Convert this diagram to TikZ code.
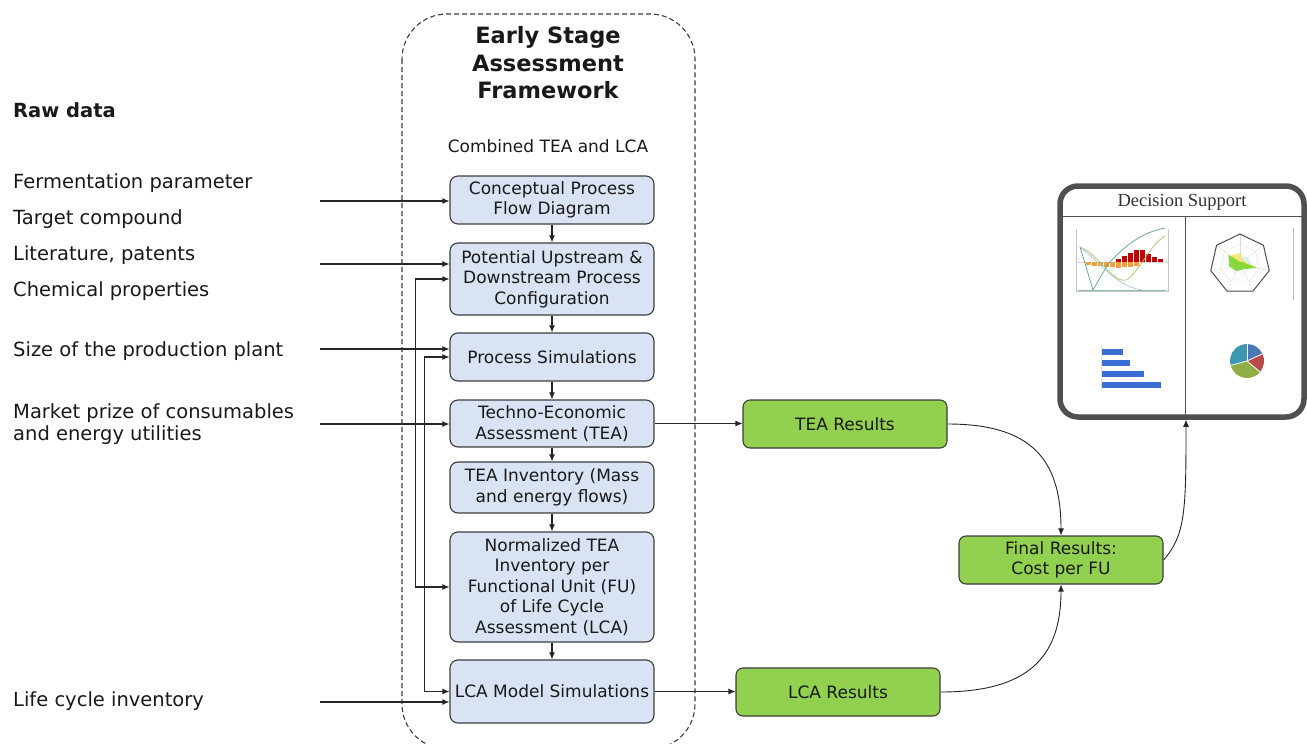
\documentclass[tikz,border=0pt]{standalone}
\usepackage{fontspec}
\setmainfont{DejaVu Sans}
\newfontfamily\dsfont{Liberation Serif}
\usetikzlibrary{arrows.meta,calc}

\definecolor{boxblue}{HTML}{DAE3F3}
\definecolor{boxgreen}{HTML}{92D050}
\definecolor{edgegray}{HTML}{3C3C3C}
\definecolor{panelgray}{HTML}{505050}
\definecolor{barorange}{HTML}{F2A03D}
\definecolor{barred}{HTML}{C00000}
\definecolor{lineteal}{HTML}{5E9C9A}
\definecolor{linelime}{HTML}{A8C46A}
\definecolor{barblue}{HTML}{3B6ED2}
\definecolor{pieblue}{HTML}{4A78B5}
\definecolor{piered}{HTML}{B94A48}
\definecolor{piegreen}{HTML}{8FAE45}
\definecolor{pieteal}{HTML}{3D97B0}

\begin{document}
\begin{tikzpicture}[x=1pt,y=-1pt,
  every node/.style={text=black!90},
  tip/.tip={Latex[length=7pt,width=6pt]},
  arr/.style={-tip, line width=1.1pt, draw=black!85},
  biarr/.style={tip-tip, line width=1.1pt, draw=black!85},
  carr/.style={-tip, line width=0.9pt, draw=black!85},
  stepbox/.style={draw=edgegray, fill=boxblue, line width=1.1pt, rounded corners=8pt,
    minimum width=204pt, inner sep=0pt, align=center,
    font=\fontsize{17}{20.5}\selectfont},
  resbox/.style={draw=edgegray, fill=boxgreen, line width=1.1pt, rounded corners=7pt,
    minimum width=204pt, minimum height=48pt, inner sep=0pt, align=center,
    font=\fontsize{17}{20.5}\selectfont},
  rawlabel/.style={anchor=west, inner sep=0pt, align=left,
    font=\fontsize{19.5}{22.5}\selectfont}
]
\useasboundingbox (0,0) rectangle (1307,744);

% framework frame
\draw[draw=edgegray, line width=1.1pt, dash pattern=on 5pt off 3pt, rounded corners=45pt]
  (402,14) rectangle (695,749);
\node[font=\fontsize{22.5}{27.5}\selectfont\bfseries, align=center] (title) at (548,63)
  {Early Stage\\Assessment\\Framework};
\node[font=\fontsize{17}{20}\selectfont] (combined) at (548,146) {Combined TEA and LCA};

% raw data column
\node[rawlabel, font=\fontsize{19.5}{22.5}\selectfont\bfseries] (raw) at (13,110) {Raw data};
\node[rawlabel] (ferm) at (13,183) {Fermentation parameter};
\node[rawlabel] (target) at (13,219) {Target compound};
\node[rawlabel] (lit) at (13,255) {Literature, patents};
\node[rawlabel] (chem) at (13,291) {Chemical properties};
\node[rawlabel] (size) at (13,351) {Size of the production plant};
\node[rawlabel] (market) at (13,424) {Market prize of consumables\\and energy utilities};
\node[rawlabel] (lci) at (13,701) {Life cycle inventory};

% process steps
\node[stepbox, minimum height=48pt] (concept) at (552,200) {Conceptual Process\\Flow Diagram};
\node[stepbox, minimum height=72pt] (potential) at (552,279) {Potential Upstream \&\\Downstream Process\\Configuration};
\node[stepbox, minimum height=48pt] (procsim) at (552,357) {Process Simulations};
\node[stepbox, minimum height=47pt] (tea) at (552,423.5) {Techno-Economic\\Assessment (TEA)};
\node[stepbox, minimum height=51pt] (inv) at (552,487.5) {TEA Inventory (Mass\\and energy flows)};
\node[stepbox, minimum height=110pt] (norm) at (552,587) {Normalized TEA\\Inventory per\\Functional Unit (FU)\\of Life Cycle\\Assessment (LCA)};
\node[stepbox, minimum height=63pt] (lcam) at (552,691.5) {LCA Model Simulations};

\draw[arr] (concept) -- (potential);
\draw[arr] (potential) -- (procsim);
\draw[arr] (procsim) -- (tea);
\draw[arr] (tea) -- (inv);
\draw[arr] (inv) -- (norm);
\draw[arr] (norm) -- (lcam);

% raw data inputs
\coordinate (i1) at (320,201);
\coordinate (i2) at (320,264);
\coordinate (i3) at (320,349);
\coordinate (i4) at (320,424);
\coordinate (i5) at (320,702);
\draw[arr] (i1) -- (i1 -| concept.west);
\draw[arr] (i2) -- (i2 -| potential.west);
\draw[arr] (i3) -- (i3 -| procsim.west);
\draw[arr] (i4) -- (i4 -| tea.west);
\draw[arr] (i5) -- (i5 -| lcam.west);

% feedback loops
\draw[biarr] (norm.west) -- ++(-34,0) |- (potential.west);
\draw[biarr] (lcam.west) -- ++(-25,0) |- (procsim.west);

% results
\node[resbox] (tearesult) at (845,424) {TEA Results};
\node[resbox] (lcaresult) at (838,692) {LCA Results};
\node[resbox] (final) at (1061,560) {Final Results:\\Cost per FU};

\draw[arr] (tea.east) -- (tea.east -| tearesult.west);
\draw[arr] (lcam.east) -- (lcam.east -| lcaresult.west);
\draw[carr] (tearesult.east) .. controls +(85,0) and +(0,-75) .. (final.north);
\draw[carr] (lcaresult.east) .. controls +(85,0) and +(0,75) .. (final.south);

% decision support panel
\node[draw=panelgray, line width=5.5pt, fill=white, rounded corners=18pt,
  minimum width=244pt, minimum height=231pt, inner sep=0pt] (panel) at (1182,301.5) {};
\node[font=\dsfont\fontsize{18.5}{21}\selectfont, text=black!80] (dstitle) at (1182,202) {Decision Support};
\draw[panelgray, line width=0.9pt] (1062,216) -- (1302,216);
\draw[panelgray, line width=0.9pt] (1185,216) -- (1185,415);
\coordinate (dsin) at (1186,0);
\draw[carr] (final.east) .. controls +(22,-25) and +(0,90) .. (panel.south -| dsin);

% cash-flow chart
\draw[gray!45, line width=0.4pt] (1076,229) -- (1076,291) -- (1168,291) -- (1168,229);
\draw[gray!30, line width=0.3pt] (1076,262) -- (1168,262);
\foreach \x/\h in {0/3,1/4,2/4,3/5,4/5,5/6,6/5,7/5,8/4}
  \fill[barorange] (1086+6*\x,262) rectangle ++(4.5,\h);
\foreach \x/\h in {5/3,6/6,7/9,8/12,9/12,10/8,11/5,12/3}
  \fill[barred] (1086+6*\x,262) rectangle ++(4.5,-\h);
\draw[lineteal!70, line width=0.7pt] (1078,290) -- (1166,290);
\draw[lineteal, line width=0.7pt] (1080,247) -- (1093,290) -- (1108,264)
  .. controls (1125,246) and (1140,233) .. (1165,228);
\draw[linelime, line width=0.7pt] (1080,247) .. controls (1100,255) and (1115,287) .. (1128,279)
  .. controls (1140,270) and (1150,245) .. (1165,236);
\draw[lineteal!60, line width=0.6pt] (1080,247) .. controls (1100,262) and (1115,286) .. (1142,290);

% radar chart
\coordinate (rc) at (1240,264);
\foreach \r in {10,20}
  \draw[gray!30, line width=0.3pt] ($(rc)+(-90:\r)$)
    \foreach \k in {1,...,6} { -- ($(rc)+(-90+\k*360/7:\r)$) } -- cycle;
\foreach \k in {0,...,6}
  \draw[gray!30, line width=0.3pt] (rc) -- ($(rc)+(-90+\k*360/7:30)$);
\fill[cyan!20, opacity=0.8] ($(rc)+(-90:8)$) -- ($(rc)+(-90+360/7:10)$) -- ($(rc)+(-90+2*360/7:14)$)
  -- ($(rc)+(-90+3*360/7:6)$) -- ($(rc)+(-90+4*360/7:5)$) -- ($(rc)+(-90+5*360/7:6)$)
  -- ($(rc)+(-90+6*360/7:9)$) -- cycle;
\fill[yellow!70!orange!60, opacity=0.85] ($(rc)+(-90:11)$) -- ($(rc)+(-90+360/7:5)$)
  -- ($(rc)+(-90+2*360/7:18)$) -- ($(rc)+(-90+3*360/7:4)$) -- ($(rc)+(-90+4*360/7:3)$)
  -- ($(rc)+(-90+5*360/7:8)$) -- ($(rc)+(-90+6*360/7:13)$) -- cycle;
\fill[green!55!yellow!80!black!80, opacity=0.9] ($(rc)+(-90:2)$) -- ($(rc)+(-90+360/7:3)$)
  -- ($(rc)+(-90+2*360/7:17)$) -- ($(rc)+(-90+3*360/7:6)$) -- ($(rc)+(-90+4*360/7:8)$)
  -- ($(rc)+(-90+5*360/7:11)$) -- ($(rc)+(-90+6*360/7:15)$) -- cycle;
\draw[gray!60!black, line width=1pt] ($(rc)+(-90:30)$)
  \foreach \k in {1,...,6} { -- ($(rc)+(-90+\k*360/7:30)$) } -- cycle;
\draw[gray!50, line width=0.5pt] (1293,228) -- (1293,300);

% bar chart
\fill[barblue] (1101,349) rectangle (1123,355);
\fill[barblue] (1101,360) rectangle (1130,366);
\fill[barblue] (1101,371) rectangle (1144,377);
\fill[barblue] (1101,382) rectangle (1161,388);
\draw[gray!25, line width=0.3pt] (1101,345) -- (1101,391);

% pie chart
\coordinate (pc) at (1247,361);
\fill[pieblue] (pc) -- ++(-90:17) arc[start angle=-90, end angle=-25, radius=17] -- cycle;
\fill[piered] (pc) -- ++(-25:17) arc[start angle=-25, end angle=40, radius=17] -- cycle;
\fill[piegreen] (pc) -- ++(40:17) arc[start angle=40, end angle=165, radius=17] -- cycle;
\fill[pieteal] (pc) -- ++(165:17) arc[start angle=165, end angle=270, radius=17] -- cycle;
\foreach \a in {-90,-25,40,165}
  \draw[white, line width=0.8pt] (pc) -- ++(\a:17.5);
\end{tikzpicture}
\end{document}
